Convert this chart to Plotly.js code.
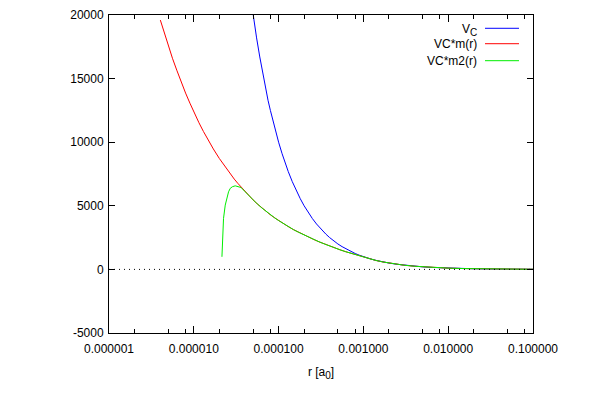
<!DOCTYPE html>
<html>
<head>
<meta charset="utf-8">
<script src="https://cdn.plot.ly/plotly-3.0.1.min.js"></script>
<style>html,body{margin:0;padding:0;background:#fff;}#chart{width:603px;height:400px;}</style>
</head>
<body>
<div id="chart"></div>
<script>
// V_C
var rBlue = [4.5e-5, 5e-5, 5.5e-5, 6e-5, 6.5e-5, 7e-5, 7.5e-5, 8e-5, 9e-5, 1e-4, 1.1e-4, 1.2e-4, 1.3e-4, 1.45e-4, 1.6e-4, 1.8e-4, 2e-4, 2.25e-4, 2.5e-4, 2.8e-4, 3.2e-4, 3.6e-4, 4e-4, 4.5e-4, 5e-4, 5.6e-4, 6.3e-4, 7e-4, 8e-4, 9e-4, 1e-3, 1.2e-3, 1.4e-3, 1.7e-3, 2e-3, 2.5e-3, 3e-3, 4e-3, 5e-3, 6.5e-3, 8e-3, 1e-2, 1.5e-2, 2e-2, 3e-2, 5e-2, 7e-2, 0.1];
var vBlue = [22200, 20000, 18200, 16700, 15400, 14300, 13300, 12500, 11100, 10000, 9090, 8330, 7690, 6900, 6250, 5560, 5000, 4440, 4000, 3570, 3130, 2780, 2500, 2220, 2000, 1790, 1590, 1430, 1250, 1110, 1000, 833, 714, 588, 500, 400, 333, 250, 200, 154, 125, 100, 67, 50, 33, 20, 14, 10];

// VC*m(r)
var rRed = [4.03e-6, 4.5e-6, 5e-6, 5.6e-6, 6.3e-6, 7e-6, 8e-6, 9e-6, 1e-5, 1.15e-5, 1.3e-5, 1.5e-5, 1.7e-5, 2e-5, 2.3e-5, 2.6e-5, 3e-5, 3.3e-5, 3.6e-5, 4e-5, 4.5e-5, 5e-5, 5.6e-5, 6.3e-5, 7e-5, 8e-5, 9e-5, 1e-4, 1.15e-4, 1.3e-4, 1.5e-4, 1.7e-4, 2e-4, 2.3e-4, 2.6e-4, 3e-4, 3.5e-4, 4e-4, 4.6e-4, 5.3e-4, 6.2e-4, 7e-4, 8e-4, 9.1e-4, 1.05e-3, 1.2e-3, 1.4e-3, 1.7e-3, 2e-3, 2.5e-3, 3e-3, 4e-3, 5e-3, 6.5e-3, 8e-3, 1e-2, 1.5e-2, 2e-2, 3e-2, 5e-2, 7e-2, 0.1];
var vRed = [19600, 18550, 17590, 16600, 15660, 14840, 13860, 13070, 12380, 11530, 10840, 10080, 9470, 8720, 8130, 7640, 7100, 6770, 6480, 6130, 5770, 5460, 5150, 4850, 4600, 4290, 4050, 3840, 3580, 3365, 3125, 2935, 2700, 2510, 2350, 2170, 1990, 1835, 1685, 1540, 1390, 1280, 1160, 1045, 925, 815, 705, 584, 497, 398, 332, 250, 200, 154, 125, 100, 67, 50, 33, 20, 14, 10];

// VC*m2(r)
var rGreen = [2.147e-5, 2.182e-5, 2.242e-5, 2.348e-5, 2.459e-5, 2.57e-5, 2.688e-5, 2.85e-5, 3.077e-5, 3.25e-5, 3.45e-5, 3.6e-5, 4e-5, 4.5e-5, 5e-5, 5.6e-5, 6.3e-5, 7e-5, 8e-5, 9e-5, 1e-4, 1.15e-4, 1.3e-4, 1.5e-4, 1.7e-4, 2e-4, 2.3e-4, 2.6e-4, 3e-4, 3.5e-4, 4e-4, 4.6e-4, 5.3e-4, 6.2e-4, 7e-4, 8e-4, 9.1e-4, 1.05e-3, 1.2e-3, 1.4e-3, 1.7e-3, 2e-3, 2.5e-3, 3e-3, 4e-3, 5e-3, 6.5e-3, 8e-3, 1e-2, 1.5e-2, 2e-2, 3e-2, 5e-2, 7e-2, 0.1];
var vGreen = [990, 2440, 4010, 5055, 5710, 6100, 6370, 6500, 6570, 6540, 6490, 6440, 6130, 5770, 5460, 5150, 4850, 4600, 4290, 4050, 3840, 3580, 3365, 3125, 2935, 2700, 2510, 2350, 2170, 1990, 1835, 1685, 1540, 1390, 1280, 1160, 1045, 925, 815, 705, 584, 497, 398, 332, 250, 200, 154, 125, 100, 67, 50, 33, 20, 14, 10];

var xTickVals = [1e-6, 1e-5, 1e-4, 1e-3, 1e-2, 1e-1];
var xTickText = ["0.000001", "0.000010", "0.000100", "0.001000", "0.010000", "0.100000"];
var xMinorVals = [2e-6, 5e-6, 8e-6, 2e-5, 5e-5, 8e-5, 2e-4, 5e-4, 8e-4, 2e-3, 5e-3, 8e-3, 2e-2, 5e-2, 8e-2];
var yTickVals = [-5000, 0, 5000, 10000, 15000, 20000];
var yTickText = ["-5000", "0", "5000", "10000", "15000", "20000"];

var seriesNames = ["V<sub><span style='font-size:10px'>C</span></sub>", "VC*m(r)", "VC*m2(r)"];
var seriesColors = ["#0000ff", "#ff0000", "#00ee00"];

var traces = [
  {x: rBlue, y: vBlue, mode: "lines", line: {color: seriesColors[0], width: 1}, name: "V_C", hoverinfo: "skip"},
  {x: rRed, y: vRed, mode: "lines", line: {color: seriesColors[1], width: 1}, name: "VC*m(r)", hoverinfo: "skip"},
  {x: rGreen, y: vGreen, mode: "lines", line: {color: seriesColors[2], width: 1}, name: "VC*m2(r)", hoverinfo: "skip"}
];

var font = {family: "Liberation Sans, Arial, sans-serif", size: 12, color: "#000"};

// gnuplot-style key: text on the left, line sample on the right
var legendRowsY = [0.9582, 0.9097, 0.8563];
var annotations = [];
var shapes = [
  {type: "line", xref: "paper", yref: "y", x0: 0, x1: 1, y0: 0, y1: 0, line: {color: "#000", width: 1, dash: "1px,4px"}}
];
for (var i = 0; i < seriesNames.length; i++) {
  annotations.push({xref: "paper", yref: "paper", x: 0.8726, y: legendRowsY[i], xanchor: "right", yanchor: "middle",
    text: seriesNames[i], showarrow: false, font: font, yshift: i === 0 ? -2 : 0});
  shapes.push({type: "line", xref: "paper", yref: "paper", x0: 0.8868, x1: 0.9670, y0: legendRowsY[i], y1: legendRowsY[i],
    line: {color: seriesColors[i], width: 1}});
}

var layout = {
  width: 603, height: 400,
  margin: {l: 109, r: 70, t: 15, b: 67},
  paper_bgcolor: "#fff", plot_bgcolor: "#fff",
  showlegend: false,
  font: font,
  xaxis: {
    type: "log", range: [-6, -1],
    tickmode: "array", tickvals: xTickVals, ticktext: xTickText,
    ticks: "inside", ticklen: 7, tickcolor: "#000", tickwidth: 1,
    minor: {tickmode: "array", tickvals: xMinorVals, ticks: "inside", ticklen: 4, tickcolor: "#000", showgrid: false},
    showline: true, linecolor: "#000", linewidth: 1, mirror: "allticks",
    showgrid: false, zeroline: false,
    ticklabelstandoff: 5,
    title: {text: "r [a<sub><span style='font-size:10px'>0</span></sub>]", font: font, standoff: 12},
    tickfont: font
  },
  yaxis: {
    range: [-5000, 20000],
    tickmode: "array", tickvals: yTickVals, ticktext: yTickText,
    ticks: "inside", ticklen: 6, tickcolor: "#000", tickwidth: 1,
    showline: true, linecolor: "#000", linewidth: 1, mirror: "allticks",
    showgrid: false, zeroline: false,
    ticklabelstandoff: 2,
    tickfont: font
  },
  annotations: annotations,
  shapes: shapes
};

Plotly.newPlot("chart", traces, layout, {displayModeBar: false, staticPlot: true});
</script>
</body>
</html>
